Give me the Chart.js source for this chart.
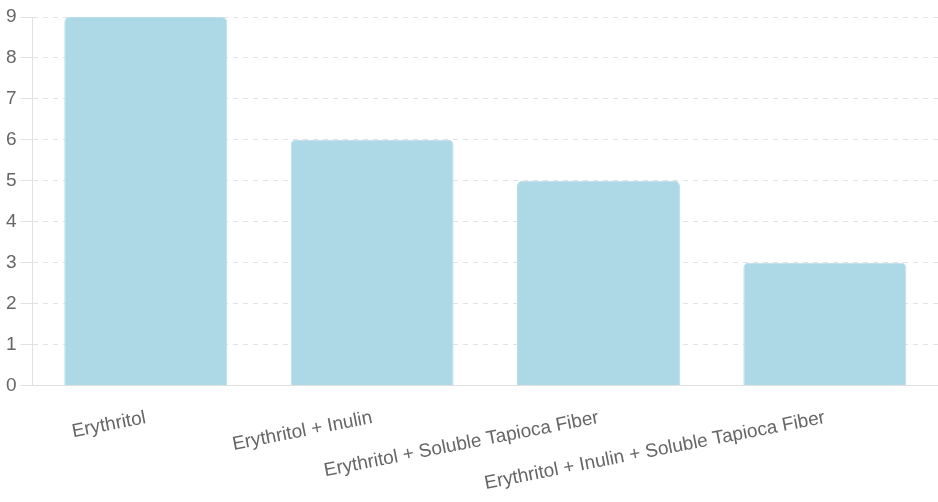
<!DOCTYPE html>
<html>
<head>
<meta charset="utf-8">
<script src="https://cdn.jsdelivr.net/npm/chart.js@4.4.1/dist/chart.umd.min.js"></script>
<style>
  html, body { margin: 0; padding: 0; background: #fff; }
  #wrap { width: 938px; height: 502px; position: relative; }
</style>
</head>
<body>
<div id="wrap"><canvas id="chart"></canvas></div>
<script>
// Data
const categories = [
  'Erythritol',
  'Erythritol + Inulin',
  'Erythritol + Soluble Tapioca Fiber',
  'Erythritol + Inulin + Soluble Tapioca Fiber'
];
const scores = [9, 6, 5, 3];
const yTicks = [0, 1, 2, 3, 4, 5, 6, 7, 8, 9];

const ctx = document.getElementById('chart').getContext('2d');
new Chart(ctx, {
  type: 'bar',
  data: {
    labels: categories,
    datasets: [{
      data: scores,
      backgroundColor: '#add8e6',
      borderColor: '#b9dfeb',
      borderWidth: 1,
      borderRadius: 5,
      borderSkipped: 'bottom'
    }]
  },
  options: {
    responsive: true,
    maintainAspectRatio: false,
    animation: false,
    layout: { padding: { top: 17, left: 2, right: 0, bottom: -6 } },
    plugins: {
      legend: { display: false },
      tooltip: { enabled: false }
    },
    scales: {
      x: {
        grid: { display: false },
        border: { color: '#e0e0e0' },
        ticks: {
          color: '#666',
          padding: 13,
          font: { family: 'Liberation Sans, Arial, sans-serif', size: 19 },
          minRotation: 11,
          maxRotation: 11,
          autoSkip: false
        }
      },
      y: {
        min: 0,
        max: 9,
        afterBuildTicks: (axis) => {
          axis.ticks = yTicks.map(v => ({ value: v }));
        },
        grid: { color: '#e2e2e2', tickLength: 12, tickColor: '#e2e2e2' },
        border: { color: '#e0e0e0', dash: [5, 5] },
        ticks: {
          color: '#666',
          padding: 4,
          font: { family: 'Liberation Sans, Arial, sans-serif', size: 19 }
        }
      }
    }
  }
});
</script>
</body>
</html>
